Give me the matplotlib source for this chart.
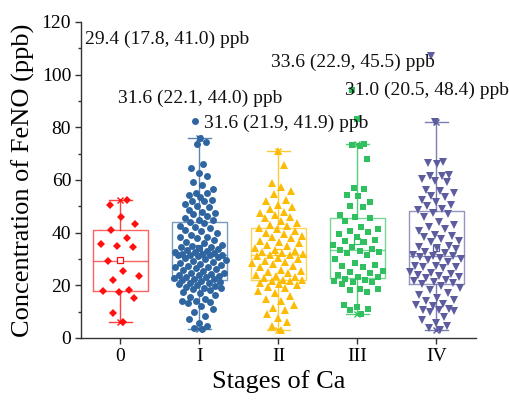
import numpy as np
import matplotlib
matplotlib.use("Agg")
import matplotlib.pyplot as plt

plt.rcParams['font.family'] = ['Liberation Serif', 'DejaVu Serif']

categories = ['0', 'I', 'II', 'III', 'IV']
colors = ['#ff1010', '#2f65a0', '#fcbc05', '#30c060', '#5c5c9e']
markers = ['D', 'o', '^', 's', 'v']

medians = [29.4, 31.6, 31.6, 33.6, 31.0]
q1s = [17.8, 22.1, 21.9, 22.9, 20.5]
q3s = [41.0, 44.0, 41.9, 45.5, 48.4]
whis_lo = [6.0, 3.4, 3.2, 9.3, 3.0]
whis_hi = [52.4, 76.1, 71.0, 73.6, 82.1]
means = [29.5, 34.3, 32.8, 37.0, 34.1]

labels = ['29.4 (17.8, 41.0) ppb', '31.6 (22.1, 44.0) ppb', '31.6 (21.9, 41.9) ppb',
          '33.6 (22.9, 45.5) ppb', '31.0 (20.5, 48.4) ppb']
label_x = [-0.45, -0.03, 1.06, 1.91, 2.84]
label_y = [113.3, 91.1, 81.5, 104.6, 94.2]

stage0 = [52.4, 50.5, 45.8, 43.2, 41.0, 38.1, 35.1, 34.6, 35.7, 29.4, 25.3, 23.5,
          22.1, 17.6, 18.0, 18.2, 15.1, 9.6, 6.0]
stage1 = [82.4, 76.1, 74.6, 73.6, 66.1, 64.7, 62.8, 61.5, 59.4, 58.1, 56.6, 55.2,
          55.0, 54.3, 53.7, 52.0, 52.2, 52.5, 49.9, 50.1, 48.6, 47.0, 46.3, 47.6,
          45.4, 44.2, 44.7, 45.0, 48.0, 51.0,
          43.5, 42.5, 42.3, 41.8, 41.0, 40.5, 39.8, 39.2, 38.5, 38.2, 38.0, 37.2,
          36.5, 36.0, 35.3, 35.0, 34.7, 34.5, 34.2, 33.7, 33.4, 33.0, 32.8, 32.5,
          32.2, 32.0, 31.8, 31.7, 31.6, 31.6,
          31.4, 31.0, 30.6, 30.3, 30.0, 29.6, 29.3, 29.0, 28.6, 28.2, 27.7, 27.4,
          27.1, 26.8, 26.4, 26.1, 25.8, 25.4, 24.8, 24.5, 24.3, 24.0, 23.8, 23.5,
          23.2, 23.0, 22.7, 22.5, 22.3, 22.1,
          21.8, 21.4, 21.0, 20.8, 20.5, 20.2, 19.8, 19.5, 19.0, 18.9, 18.5, 18.2,
          17.6, 17.0, 16.2, 15.5, 14.8, 14.0, 14.0, 13.8, 13.3, 12.0, 11.0, 10.0,
          8.5, 7.1, 5.8, 4.5, 3.7, 3.4]
stage2 = [71.0, 65.7, 59.0, 57.5, 56.0, 54.5, 52.4, 52.0, 50.5, 49.9, 49.0, 48.0,
          47.5, 46.7, 46.1, 45.4, 44.5, 43.5, 43.0, 42.5,
          41.8, 41.5, 40.6, 40.0, 39.5, 38.8, 38.5, 37.8, 37.0, 36.5, 36.0, 35.3,
          34.8, 34.0, 33.6, 33.0, 32.5, 32.2, 31.8, 31.6,
          31.4, 31.0, 30.5, 30.0, 29.4, 29.0, 28.5, 28.0, 27.3, 26.8, 26.0, 25.5,
          25.0, 24.6, 24.0, 23.5, 23.0, 22.6, 22.2, 22.0,
          21.8, 21.5, 21.0, 20.5, 20.0, 19.5, 19.0, 18.0, 17.0, 16.0, 15.0, 14.0,
          12.5, 11.5, 10.5, 9.0, 7.5, 6.0, 4.5, 3.2]
stage3 = [94.2, 83.0,
          73.6, 73.2, 73.0, 67.9, 56.9, 56.6, 54.3, 54.0, 51.8, 50.1, 49.8, 46.7, 46.1,
          45.5, 44.5, 42.3, 41.3, 40.8, 40.3, 39.5, 38.5, 37.2, 36.9, 36.6, 35.3,
          34.5, 33.9, 33.6,
          33.0, 32.8, 32.3, 31.5, 30.0, 28.6, 27.7, 27.5, 27.0, 25.6, 25.2, 24.6,
          23.8, 23.3, 23.0,
          22.5, 22.0, 21.8, 21.4, 21.2, 20.5, 18.5, 18.5, 18.2, 17.5, 12.5, 11.9,
          10.9, 10.6, 9.3]
stage4 = [107.0,
          82.1, 67.0, 66.3, 66.1, 61.9, 61.7, 61.5, 60.5, 59.7, 59.3, 56.2, 55.8,
          55.2, 54.0, 53.4, 52.4, 51.8, 50.5, 50.0, 48.9, 48.6, 47.4,
          47.0, 46.0, 44.2, 43.0, 42.0, 41.3, 40.8, 39.1, 38.8, 38.5, 37.5, 37.0,
          36.6, 35.0, 34.5, 34.2, 33.8, 32.8, 32.2, 31.5, 31.3, 31.0,
          30.8, 30.3, 29.9, 29.5, 29.0, 27.3, 27.3, 27.1, 27.0, 26.5, 25.2, 24.6,
          24.3, 24.0, 23.5, 23.0, 22.7, 22.2, 21.8, 21.4, 20.8, 20.5,
          19.8, 18.9, 18.2, 17.1, 16.2, 15.1, 14.4, 14.2, 13.1, 12.5, 12.0, 10.9,
          10.8, 10.5, 10.2, 9.8, 8.1, 6.8, 5.6, 4.5, 3.7, 3.0]
groups = [stage0, stage1, stage2, stage3, stage4]


def jitter_offsets(vals, half_width=0.36, bandwidth=6.0, gamma=0.8):
    """Deterministic density-scaled quasi-random jitter (golden ratio sequence)."""
    vals = np.asarray(vals, dtype=float)
    dens = np.array([np.sum(np.exp(-0.5 * ((vals - v) / bandwidth) ** 2)) for v in vals])
    dens = dens / dens.max()
    order = np.argsort(vals)
    offs = np.zeros(len(vals))
    g = 0.6180339887
    for rank, i in enumerate(order):
        u = ((rank + 1) * g) % 1.0
        offs[i] = (2 * u - 1) * half_width * (0.15 + 0.85 * dens[i] ** gamma)
    return offs


fig = plt.figure(figsize=(5.09, 4.0), dpi=100)
ax = fig.add_axes([0.159, 0.155, 0.776, 0.79])

for i, cat in enumerate(categories):
    stats = [dict(med=medians[i], q1=q1s[i], q3=q3s[i], whislo=whis_lo[i],
                  whishi=whis_hi[i], mean=means[i], fliers=[], label=cat)]
    c = colors[i]
    ax.bxp(stats, positions=[i], widths=0.7, showmeans=True, showfliers=False,
           patch_artist=False, manage_ticks=False,
           boxprops=dict(color=c, lw=1.0, alpha=0.65),
           medianprops=dict(color=c, lw=1.0, alpha=0.65),
           whiskerprops=dict(color=c, lw=1.0, alpha=0.8),
           capprops=dict(color=c, lw=1.0, alpha=0.8),
           capwidths=0.29,
           meanprops=dict(marker='s', markerfacecolor='white', markeredgecolor=c,
                          markersize=4, markeredgewidth=0.9),
           zorder=2)
    vals = np.asarray(groups[i])
    offs = jitter_offsets(vals, half_width=0.34 if i > 0 else 0.27)
    ms = {'D': 4.3, 'o': 5.0, '^': 6.0, 's': 4.8, 'v': 6.0}[markers[i]]
    ax.plot(i + offs, vals, linestyle='none', marker=markers[i], color=c,
            markersize=ms, markeredgewidth=0, zorder=3)
    ax.plot([i, i], [whis_lo[i], whis_hi[i]], linestyle='none', marker='x',
            color=c, markersize=5, markeredgewidth=1.0, zorder=4)

for t, x, y in zip(labels, label_x, label_y):
    ax.text(x, y, t, ha='left', va='center', fontsize=14, color='#111111', zorder=5)

ax.set_xlim(-0.5, 4.5)
ax.set_ylim(0, 120)
ax.set_xticks(range(len(categories)))
ax.set_xticklabels(categories)
ax.set_yticks(np.arange(0, 121, 20))
ax.set_yticks(np.arange(10, 120, 20), minor=True)
ax.tick_params(axis='both', which='major', direction='out', length=4, width=1.0,
               labelsize=14, pad=3, color='#333333')
ax.tick_params(axis='y', which='minor', direction='out', length=2.5, width=1.0,
               color='#333333')
for s in ['top', 'right']:
    ax.spines[s].set_visible(False)
for s in ['left', 'bottom']:
    ax.spines[s].set_linewidth(1.0)
    ax.spines[s].set_color('#333333')

ax.set_xlabel('Stages of Ca', fontsize=19, labelpad=4)
ax.set_ylabel('Concentration of FeNO (ppb)', fontsize=19, labelpad=5)

fig.savefig('out.png', dpi=100)
